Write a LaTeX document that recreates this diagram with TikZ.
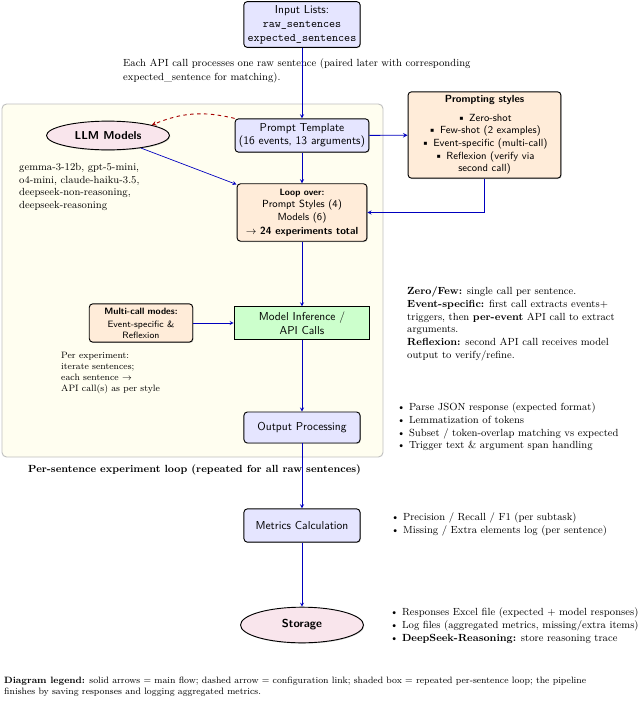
\documentclass[tikz,border=0pt]{standalone}
\usepackage{tikz}
\usetikzlibrary{shapes.geometric,shadows}

\begin{document}
\begin{tikzpicture}[x=0.87pt, y=-0.87pt,
    shade/.style={opacity=0.35, shadow xshift=0.7pt, shadow yshift=-0.7pt},
    box/.style={draw, thick, rounded corners=3pt, align=center, font=\sffamily, drop shadow={shade}},
    procbox/.style={box, fill=blue!10},
    cfgbox/.style={box, fill=orange!15},
    oval/.style={ellipse, draw, thick, fill=purple!10, font=\sffamily\bfseries, drop shadow={shade}},
    flow/.style={-stealth, semithick, blue!75!black},
    note/.style={anchor=north west, inner sep=0pt, align=left, font=\small}]
      \useasboundingbox (0,0) rectangle (640,704);

      % ループ領域
      \draw [gray!50, thick, fill=yellow!6, rounded corners=4pt] (2,104) rectangle (383,457);
      \node [note, font=\small\bfseries] (looplabel) at (28,465) {Per-sentence experiment loop (repeated for all raw sentences)};

      % ノード
      \node [procbox, minimum width=101pt, minimum height=39pt] (input) at (302,24.5)
        {Input Lists:\\ \texttt{raw\_sentences}\\ \texttt{expected\_sentences}};
      \node [procbox, minimum width=115pt, minimum height=29pt] (prompt) at (302,135.5)
        {Prompt Template\\ (16 events, 13 arguments)};
      \node [oval, minimum width=107pt, minimum height=25pt] (llm) at (108,135.5) {LLM Models};
      \node [cfgbox, minimum width=133pt, minimum height=75pt, font=\sffamily\small] (styles) at (484.5,135)
        {\textbf{Prompting styles}\\[5pt] \textbullet\ Zero-shot\\ \textbullet\ Few-shot (2 examples)\\
         \textbullet\ Event-specific (multi-call)\\ \textbullet\ Reflexion (verify via\\ second call)};
      \node [cfgbox, minimum width=113pt, minimum height=50pt, font=\sffamily\small] (loop) at (302,212.5)
        {\textbf{\footnotesize Loop over:}\\ Prompt Styles (4)\\ Models (6)\\[1pt] \textbf{$\rightarrow$ 24 experiments total}};
      \node [cfgbox, minimum width=90pt, minimum height=33pt, font=\sffamily\footnotesize] (multi) at (141,323)
        {\textbf{Multi-call modes:}\\[2pt] Event-specific \&\\ Reflexion};
      \node [draw, thick, fill=green!20, align=center, font=\sffamily, minimum width=118pt, minimum height=28pt] (infer) at (302,323)
        {Model Inference /\\ API Calls};
      \node [procbox, minimum width=101pt, minimum height=27pt] (output) at (302,427.5) {Output Processing};
      \node [procbox, minimum width=101pt, minimum height=29pt] (metrics) at (302,525.5) {Metrics Calculation};
      \node [oval, minimum width=107pt, minimum height=31pt] (storage) at (302,625) {Storage};

      % 説明
      \node [note] (apinote) at (123,59)
        {Each API call processes one raw sentence (paired later with corresponding\\[1pt] expected\_sentence for matching).};
      \node [note] (modellist) at (19,163)
        {gemma-3-12b, gpt-5-mini,\\ o4-mini, claude-haiku-3.5,\\ deepseek-non-reasoning,\\ deepseek-reasoning};
      \node [note, font=\footnotesize] (perexp) at (61,352)
        {Per experiment:\\ iterate sentences;\\ each sentence $\rightarrow$\\ API call(s) as per style};
      \node [note] (callnote) at (407,287)
        {\textbf{Zero/Few:} single call per sentence.\\ \textbf{Event-specific:} first call extracts events+\\
         triggers, then \textbf{per-event} API call to extract\\ arguments.\\
         \textbf{Reflexion:} second API call receives model\\ output to verify/refine.};
      \node [note] (outnote) at (397,403)
        {\textbullet\ Parse JSON response (expected format)\\ \textbullet\ Lemmatization of tokens\\
         \textbullet\ Subset / token-overlap matching vs expected\\ \textbullet\ Trigger text \& argument span handling};
      \node [note] (metnote) at (391,513)
        {\textbullet\ Precision / Recall / F1 (per subtask)\\ \textbullet\ Missing / Extra elements log (per sentence)};
      \node [note] (stonote) at (390,608)
        {\textbullet\ Responses Excel file (expected + model responses)\\ \textbullet\ Log files (aggregated metrics, missing/extra items)\\
         \textbullet\ \textbf{DeepSeek-Reasoning:} store reasoning trace};
      \node [note, font=\footnotesize] (legend) at (4,677)
        {\textbf{Diagram legend:} solid arrows = main flow; dashed arrow = configuration link; shaded box = repeated per-sentence loop; the pipeline\\
         finishes by saving responses and logging aggregated metrics.};

      % 矢印
      \draw [flow] (input) -- (prompt);
      \draw [flow, thick] (prompt) -- (styles);
      \draw [flow] (prompt) -- (loop);
      \draw [flow] (styles.south) |- (loop.east);
      \draw [flow] (llm) -- ([yshift=-1pt]loop.north west);
      \draw [flow] (loop) -- (infer);
      \draw [flow] (multi) -- (infer);
      \draw [flow] (infer) -- (output);
      \draw [flow] (output) -- (metrics);
      \draw [flow] (metrics) -- (storage);
      \draw [-stealth, thick, dashed, red!65!black] (prompt.north west) to [bend right=18] (llm.north east);
\end{tikzpicture}
\end{document}
